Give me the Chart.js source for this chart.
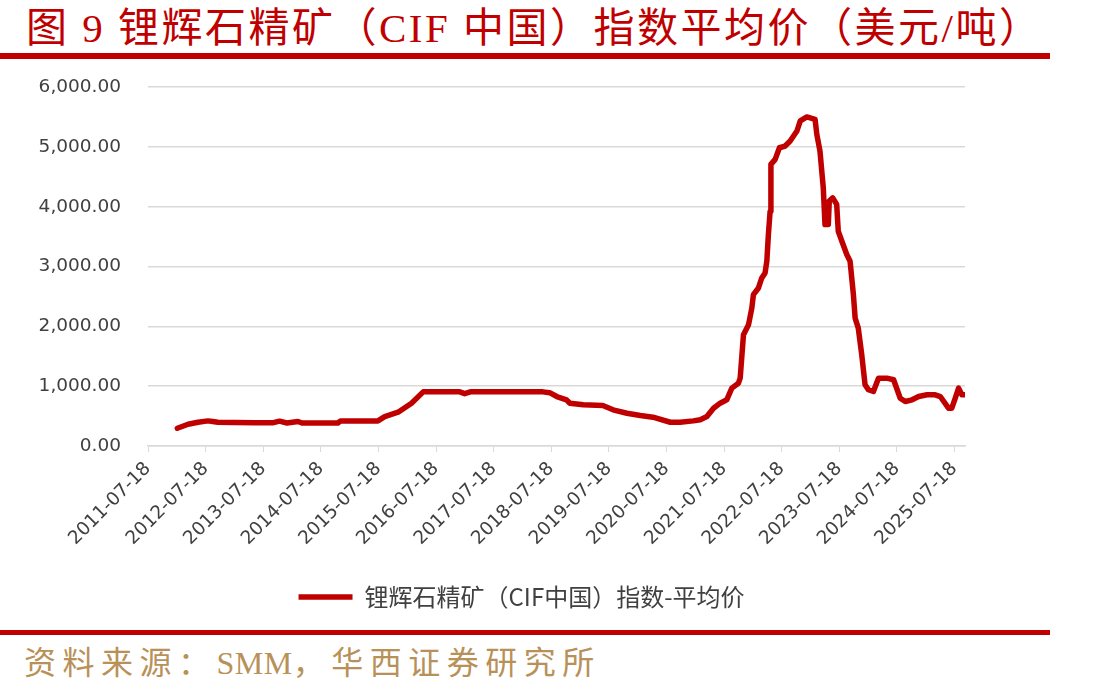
<!doctype html>
<html>
<head>
<meta charset="utf-8">
<script src="https://cdn.jsdelivr.net/npm/chart.js@4.4.1/dist/chart.umd.min.js"></script>
<style>
  body{margin:0;width:1100px;height:694px;background:#fff;position:relative;overflow:hidden}
  .title{position:absolute;left:26px;top:8px;font:41px/41px "Liberation Serif","Noto Sans CJK SC",serif;color:#c00000;letter-spacing:2.5px;white-space:nowrap}
  .bar{position:absolute;left:0;width:1050px;background:#c00000}
  #wrap{position:absolute;left:0;top:49px;width:1100px;height:578px}
  .src{position:absolute;left:24px;top:647px;font:32px/32px "Liberation Serif","Noto Sans CJK SC",serif;color:#b89158;letter-spacing:6.5px;white-space:nowrap}
  .src span{letter-spacing:0.5px}
</style>
</head>
<body>
<div class="title">图 9 锂辉石精矿（CIF 中国）指数平均价（美元/吨）</div>
<div class="bar" style="top:53px;height:6px"></div>
<div id="wrap"><canvas id="c" width="1100" height="578"></canvas></div>
<div class="bar" style="top:630px;height:5px"></div>
<div class="src">资料来源：<span>SMM</span>，华西证券研究所</div>
<script>
// weekly index, thinned to the turning points
const SERIES_NAME = "锂辉石精矿（CIF中国）指数-平均价";
const TICK_LABELS = ["2011-07-18","2012-07-18","2013-07-18","2014-07-18","2015-07-18",
  "2016-07-18","2017-07-18","2018-07-18","2019-07-18","2020-07-18","2021-07-18",
  "2022-07-18","2023-07-18","2024-07-18","2025-07-18"];
const DATES = [
  "2012-01-20","2012-03-28","2012-05-30","2012-08-01","2012-09-01","2012-10-03",
  "2013-01-15","2013-06-01","2013-09-20","2013-10-29","2013-12-15","2014-02-23",
  "2014-03-20","2014-11-03","2014-11-20","2015-07-15","2015-08-27","2015-11-20",
  "2016-02-13","2016-04-27","2016-12-15","2017-01-15","2017-02-20","2018-05-26",
  "2018-07-08","2018-08-22","2018-10-23","2018-11-13","2019-02-06","2019-06-10",
  "2019-08-14","2019-11-10","2020-02-03","2020-04-23","2020-08-11","2020-10-12",
  "2021-01-04","2021-02-17","2021-03-31","2021-05-12","2021-06-23","2021-08-04",
  "2021-09-05","2021-10-17","2021-10-28","2021-11-18","2021-12-20","2022-01-10",
  "2022-01-20","2022-02-21","2022-03-14","2022-04-04","2022-04-15","2022-04-25",
  "2022-05-06","2022-05-11","2022-06-07","2022-07-04","2022-08-09","2022-09-10",
  "2022-10-23","2022-11-13","2022-12-25","2023-02-15","2023-02-26","2023-03-18",
  "2023-04-08","2023-04-19","2023-05-10","2023-05-16","2023-06-07","2023-07-02",
  "2023-07-12","2023-08-04","2023-09-04","2023-09-25","2023-10-16","2023-10-27",
  "2023-11-16","2023-12-08","2023-12-29","2024-01-19","2024-02-20","2024-03-23",
  "2024-05-15","2024-06-27","2024-08-08","2024-09-09","2024-10-22","2024-12-03",
  "2025-01-25","2025-03-18","2025-04-19","2025-06-10","2025-07-01","2025-07-23",
  "2025-08-13","2025-09-03","2025-09-24"];
const PRICES = [
  297,364,397,420,410,397,
  392,390,390,415,385,410,
  385,385,420,420,492,565,
  715,905,905,875,905,905,
  891,827,772,715,688,677,
  605,548,509,481,397,397,
  420,440,492,632,716,772,
  967,1050,1134,1861,2028,2307,
  2531,2642,2809,2893,3089,3536,
  3926,4708,4792,4986,5015,5099,
  5266,5434,5501,5462,5211,4931,
  4316,3703,3703,4094,4149,4038,
  3591,3424,3201,3089,2531,2139,
  1971,1525,1023,940,911,1134,
  1134,1107,799,744,772,827,
  856,856,827,632,632,799,
  967,856,856];
const X_MAX = 14.184; // axis runs a little past the last tick

const ORIGIN = Date.parse("2011-07-18");
const toYears = d => (Date.parse(d) - ORIGIN) / (365.25 * 864e5);
const points = DATES.map((d, i) => ({ x: toYears(d), y: PRICES[i] }));

const AXIS_FONT = { size: 18.5, family: "'DejaVu Sans', sans-serif" };
const fmt = v => v.toLocaleString("en-US", { minimumFractionDigits: 2, maximumFractionDigits: 2 });

// legend in the original sits right of the canvas centre
const nudgeLegend = {
  id: "nudgeLegend",
  afterLayout(chart) { chart.legend.left += 39; chart.legend.right += 39; }
};

new Chart(document.getElementById("c"), {
  type: "line",
  data: {
    datasets: [{
      label: SERIES_NAME,
      data: points,
      borderColor: "#c00000",
      backgroundColor: "#c00000",
      borderWidth: 5.5,
      pointRadius: 0,
      tension: 0,
      borderJoinStyle: "round",
      borderCapStyle: "round"
    }]
  },
  plugins: [nudgeLegend],
  options: {
    responsive: false,
    animation: false,
    layout: { padding: { top: 11, right: 135, bottom: 8, left: 0 } },
    plugins: {
      tooltip: { enabled: false },
      legend: {
        position: "bottom",
        labels: {
          usePointStyle: true,
          pointStyle: "line",
          pointStyleWidth: 54,
          boxHeight: 5,
          padding: 10,
          color: "#404040",
          font: { size: 24, family: "'Noto Sans CJK SC', sans-serif" }
        }
      }
    },
    scales: {
      x: {
        type: "linear",
        min: 0,
        max: X_MAX,
        afterBuildTicks: s => { s.ticks = TICK_LABELS.map((_, i) => ({ value: i })); },
        afterFit: s => { s.height = 129; },
        ticks: {
          autoSkip: false,
          minRotation: 45,
          maxRotation: 45,
          padding: 6,
          color: "#404040",
          font: AXIS_FONT,
          callback: v => TICK_LABELS[Math.round(v)]
        },
        grid: { drawOnChartArea: false, drawTicks: true, tickLength: 6, color: "#d9d9d9" },
        border: { color: "#d9d9d9", width: 1.5 }
      },
      y: {
        min: 0,
        max: 6000,
        afterFit: s => { s.width = 148; },
        ticks: { stepSize: 1000, autoSkip: false, padding: 27, color: "#404040", font: AXIS_FONT, callback: fmt },
        grid: { color: "#d9d9d9", lineWidth: 1.5, drawTicks: false },
        border: { display: false }
      }
    }
  }
});
</script>
</body>
</html>
